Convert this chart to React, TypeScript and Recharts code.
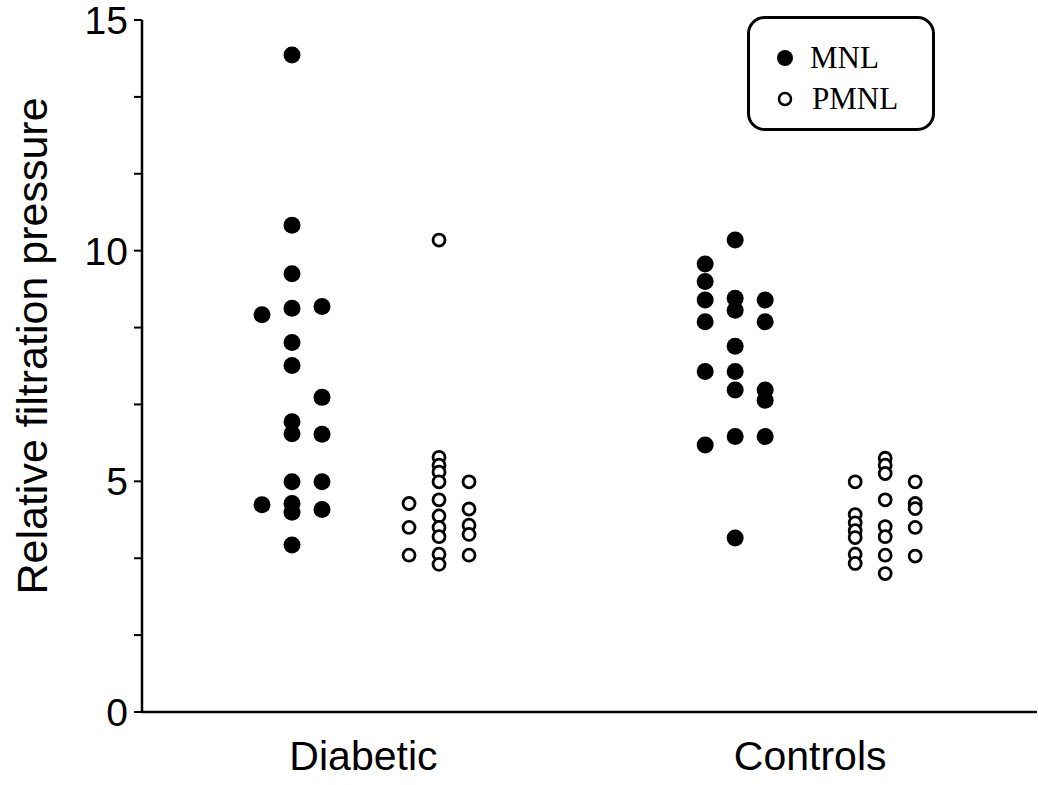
import { ScatterChart, Scatter, XAxis, YAxis } from "recharts";

// each point: [column, value]; column -1 = left, 0 = middle, 1 = right of the group's strip
const diabeticMNL: [number, number][] = [
  [0, 14.24], [0, 10.55], [0, 9.5], [-1, 8.61], [0, 8.75], [1, 8.79], [0, 8.01], [0, 7.51],
  [1, 6.82], [0, 6.29], [0, 6.03], [1, 6.02], [0, 4.99], [1, 4.99], [-1, 4.49], [0, 4.52],
  [0, 4.33], [1, 4.39], [0, 3.62],
];
const diabeticPMNL: [number, number][] = [
  [0, 10.23], [-1, 4.52], [-1, 4.0], [-1, 3.4],
  [0, 5.52], [0, 5.35], [0, 5.2], [0, 4.99], [0, 4.6], [0, 4.25], [0, 4.0], [0, 3.8], [0, 3.42], [0, 3.2],
  [1, 4.99], [1, 4.4], [1, 4.05], [1, 3.85], [1, 3.4],
];
const controlsMNL: [number, number][] = [
  [0, 10.23], [-1, 9.71], [-1, 9.33], [-1, 8.93], [-1, 8.46], [-1, 7.38], [-1, 5.79],
  [0, 8.97], [0, 8.71], [0, 7.93], [0, 7.38], [0, 6.98], [0, 5.97], [0, 3.77],
  [1, 8.93], [1, 8.46], [1, 6.98], [1, 6.76], [1, 5.97],
];
const controlsPMNL: [number, number][] = [
  [-1, 4.99], [-1, 4.28], [-1, 4.1], [-1, 3.93], [-1, 3.78], [-1, 3.42], [-1, 3.22],
  [0, 5.5], [0, 5.35], [0, 5.17], [0, 4.6], [0, 4.02], [0, 3.8], [0, 3.4], [0, 3.0],
  [1, 4.99], [1, 4.52], [1, 4.41], [1, 4.0], [1, 3.38],
];

const CATEGORIES = ["Diabetic", "Controls"];
const SERIES = ["MNL", "PMNL"];
const Y_TICKS = [0, 1.667, 3.333, 5, 6.667, 8.333, 10, 11.667, 13.333, 15];
const Y_LABELS = [0, 5, 10, 15];

// strip centres along the x axis (one unit = one column width)
const CENTER = { dMNL: 5, dPMNL: 9.9, cMNL: 19.77, cPMNL: 24.77 };
const CATEGORY_POS = [7.38, 22.27];

const toPoints = (pts: [number, number][], center: number) =>
  pts.map(([c, v]) => ({ x: center + c, y: v }));

const mnlData = [...toPoints(diabeticMNL, CENTER.dMNL), ...toPoints(controlsMNL, CENTER.cMNL)];
const pmnlData = [...toPoints(diabeticPMNL, CENTER.dPMNL), ...toPoints(controlsPMNL, CENTER.cPMNL)];

const SANS = '"Liberation Sans", Arial, Helvetica, sans-serif';
const SERIF = '"Liberation Serif", "Times New Roman", serif';

const Filled = (p: any) => <circle cx={p.cx} cy={p.cy} r={8.5} fill="#000" />;
const Open = (p: any) => <circle cx={p.cx} cy={p.cy} r={6} fill="#fff" stroke="#000" strokeWidth={2.8} />;

function YTick(p: any) {
  const v = p.payload.value;
  if (!Y_LABELS.some(l => Math.abs(l - v) < 0.01)) return null;
  return (
    <text x={p.x} y={p.y} dy="0.36em" textAnchor="end" fontFamily={SANS} fontSize={39} fill="#000">
      {Math.round(v)}
    </text>
  );
}

function XTick(p: any) {
  const i = CATEGORY_POS.findIndex(c => Math.abs(c - p.payload.value) < 0.01);
  return (
    <text x={p.x} y={p.y + 58} textAnchor="middle" fontFamily={SANS} fontSize={41} fill="#000">
      {CATEGORIES[i]}
    </text>
  );
}

function LegendBox() {
  return (
    <svg width={190} height={118} style={{ position: "absolute", left: 747, top: 16 }}>
      <rect x={1.5} y={1.5} width={185} height={112} rx={16} fill="#fff" stroke="#000" strokeWidth={3} />
      <circle cx={38} cy={42} r={8} fill="#000" />
      <text x={63} y={52} fontFamily={SERIF} fontSize={31} fill="#000">{SERIES[0]}</text>
      <circle cx={38} cy={83} r={6} fill="#fff" stroke="#000" strokeWidth={2.5} />
      <text x={65} y={93} fontFamily={SERIF} fontSize={31} fill="#000">{SERIES[1]}</text>
    </svg>
  );
}

export default function App() {
  return (
    <div style={{ position: "absolute", left: 0, top: 0, width: 1038, height: 785, background: "#fff" }}>
      <ScatterChart width={1038} height={785} margin={{ top: 20, right: 1, bottom: 0, left: 0 }}>
        <XAxis
          type="number" dataKey="x" domain={[0, 29.83]} ticks={CATEGORY_POS} tick={<XTick />}
          tickLine={false} tickSize={0} tickMargin={0} height={73}
          axisLine={{ stroke: "#000", strokeWidth: 2.5 }} allowDataOverflow
        />
        <YAxis
          type="number" dataKey="y" domain={[0, 15]} ticks={Y_TICKS} tick={<YTick />} interval={0}
          tickSize={8} tickMargin={6} width={142}
          tickLine={{ stroke: "#000", strokeWidth: 2 }} axisLine={{ stroke: "#000", strokeWidth: 2.5 }}
          label={{
            content: () => (
              <text transform="translate(47,346) rotate(-90)" textAnchor="middle" fontFamily={SANS} fontSize={43} fill="#000">
                Relative filtration pressure
              </text>
            ),
          }}
        />
        <Scatter name={SERIES[0]} data={mnlData} shape={Filled} isAnimationActive={false} />
        <Scatter name={SERIES[1]} data={pmnlData} shape={Open} isAnimationActive={false} />
      </ScatterChart>
      <LegendBox />
    </div>
  );
}
